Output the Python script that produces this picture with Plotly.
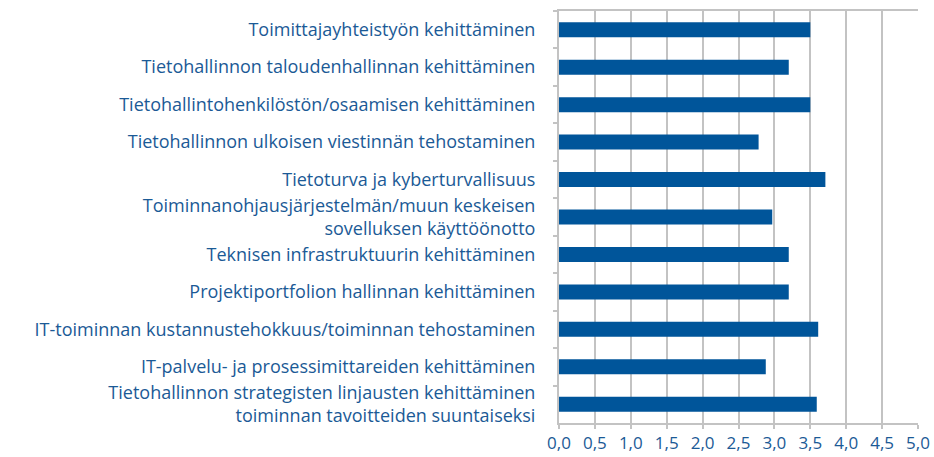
import plotly.graph_objects as go

categories = [
    "Toimittajayhteistyön kehittäminen",
    "Tietohallinnon taloudenhallinnan kehittäminen",
    "Tietohallintohenkilöstön/osaamisen kehittäminen",
    "Tietohallinnon ulkoisen viestinnän tehostaminen",
    "Tietoturva ja kyberturvallisuus",
    "Toiminnanohjausjärjestelmän/muun keskeisen<br>sovelluksen käyttöönotto",
    "Teknisen infrastruktuurin kehittäminen",
    "Projektiportfolion hallinnan kehittäminen",
    "IT-toiminnan kustannustehokkuus/toiminnan tehostaminen",
    "IT-palvelu- ja prosessimittareiden kehittäminen",
    "Tietohallinnon strategisten linjausten kehittäminen<br>toiminnan tavoitteiden suuntaiseksi",
]
values = [3.5, 3.2, 3.5, 2.78, 3.71, 2.97, 3.2, 3.2, 3.61, 2.88, 3.59]
tick_vals = [0, 0.5, 1, 1.5, 2, 2.5, 3, 3.5, 4, 4.5, 5]
tick_text = ["0,0", "0,5", "1,0", "1,5", "2,0", "2,5", "3,0", "3,5", "4,0", "4,5", "5,0"]

text_color = "#1b5a96"
bar_color = "#00559a"
grid_color = "#c3c3c3"

fig = go.Figure(go.Bar(
    y=categories, x=values, orientation="h",
    marker=dict(color=bar_color, line=dict(width=0)),
))

fig.update_layout(
    width=934, height=457,
    margin=dict(l=559, r=16, t=11, b=34, autoexpand=False),
    paper_bgcolor="white", plot_bgcolor="white",
    bargap=0.6,
    showlegend=False,
    font=dict(family="Open Sans", size=18, color=text_color),
)
fig.update_xaxes(
    range=[0, 5], tickvals=tick_vals, ticktext=tick_text,
    showgrid=True, gridcolor=grid_color, gridwidth=2,
    showline=True, linecolor=grid_color, linewidth=2, mirror=True,
    ticks="outside", ticklen=4, tickcolor=grid_color, tickwidth=2,
    tickfont=dict(size=17, color=text_color),
    zeroline=False, fixedrange=True, automargin=False,
)
fig.update_yaxes(
    autorange="reversed", type="category",
    showline=True, linecolor=grid_color, linewidth=2,
    ticks="outside", ticklen=4, tickcolor=grid_color, tickwidth=2,
    tickson="boundaries",
    tickfont=dict(size=18, color=text_color),
    ticklabelstandoff=18,
    showgrid=False, automargin=False,
)

fig.write_html(
    "out.html",
    config={"displayModeBar": False},
    post_script="document.body.style.margin='0';document.body.style.overflow='hidden';",
)
